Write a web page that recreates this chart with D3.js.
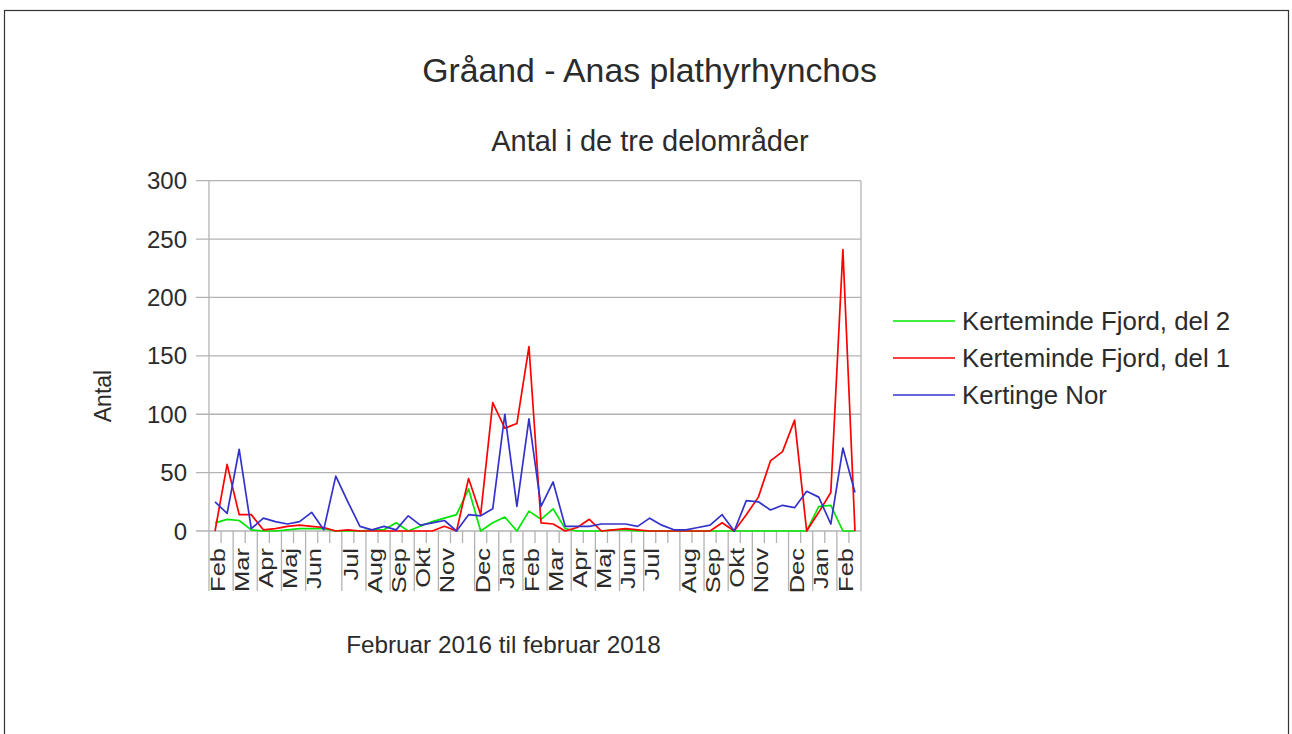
<!DOCTYPE html>
<html>

<head>
    <meta charset="utf-8">
    <title>Gråand</title>
    <script src="https://cdn.jsdelivr.net/npm/d3@7"></script>
    <style type="text/css">
    body {
        margin: 0;
        background: #fff;
    }

    text {
        font-family: "Liberation Sans", Arial, sans-serif;
        fill: #2b2b2b;
    }

    .grid line {
        stroke: #b3b3b3;
        stroke-width: 1.3px;
    }

    .series {
        fill: none;
        stroke-width: 1.7px;
        stroke-linejoin: round;
    }
    </style>
</head>

<body>
    <div id="chart"></div>
    <script>
    // one entry per count, month name at the first count of each month
    var categories = [
        "Feb", "", "Mar", "", "Apr", "", "Maj", "", "Jun", "", "", "Jul", "", "Aug", "", "Sep", "", "Okt",
        "", "Nov", "", "", "Dec", "", "Jan", "", "Feb", "", "Mar", "", "Apr", "", "Maj", "", "Jun", "",
        "Jul", "", "", "Aug", "", "Sep", "", "Okt", "", "Nov", "", "", "Dec", "", "Jan", "", "Feb", ""
    ];

    var del2 = [7, 10, 9, 1, 0, 0, 1, 2, 2, 2, 0, 0, 0, 1, 1, 7, 0, 4,
        8, 11, 14, 36, 0, 7, 12, 0, 17, 10, 19, 2, 0, 0, 0, 1, 1, 0,
        0, 0, 0, 0, 0, 0, 0, 0, 0, 0, 0, 0, 0, 0, 21, 22, 0, 0];

    var del1 = [0, 57, 14, 14, 1, 2, 4, 5, 4, 3, 0, 1, 0, 0, 0, 0, 0, 0,
        0, 4, 0, 45, 14, 110, 88, 92, 158, 7, 6, 0, 3, 10, 0, 1, 2, 1,
        0, 0, 0, 0, 0, 0, 7, 0, 14, 29, 60, 68, 95, 0, 16, 33, 241, 0];

    var kertinge = [25, 15, 70, 2, 11, 8, 6, 8, 16, 1, 47, 25, 4, 1, 4, 1, 13, 5,
        7, 9, 0, 14, 13, 19, 100, 21, 96, 21, 42, 4, 4, 4, 6, 6, 6, 4,
        11, 5, 1, 1, 3, 5, 14, 0, 26, 25, 18, 22, 20, 34, 29, 6, 71, 33];

    var seriesNames = ["Kerteminde Fjord, del 2", "Kerteminde Fjord, del 1", "Kertinge Nor"];
    var seriesColors = ["#00e600", "#ff0000", "#3333cc"];
    var yTicks = [0, 50, 100, 150, 200, 250, 300];

    var series = [del2, del1, kertinge];

    var W = 1292,
        H = 734,
        plot = { left: 209, right: 861, top: 180.7, bottom: 531 };

    var svg = d3.select('#chart').append('svg')
        .attr('width', W)
        .attr('height', H);

    // page frame
    svg.append('rect')
        .attr('x', 4.5).attr('y', 10.5)
        .attr('width', 1284).attr('height', 740)
        .attr('fill', 'none')
        .attr('stroke', '#333')
        .attr('stroke-width', 1.2);

    var xScale = d3.scaleBand()
        .domain(d3.range(categories.length))
        .range([plot.left, plot.right]);

    var yScale = d3.scaleLinear()
        .domain([0, 300])
        .range([plot.bottom, plot.top]);

    function cx(i) {
        return xScale(i) + xScale.bandwidth() / 2;
    }

    // horizontal grid + y labels
    var grid = svg.append('g').attr('class', 'grid');
    grid.selectAll('line')
        .data(yTicks)
        .enter()
        .append('line')
        .attr('x1', plot.left - 13)
        .attr('x2', plot.right)
        .attr('y1', function(d) { return yScale(d); })
        .attr('y2', function(d) { return yScale(d); });

    svg.selectAll('.ylab')
        .data(yTicks)
        .enter()
        .append('text')
        .attr('class', 'ylab')
        .attr('x', 187)
        .attr('y', function(d) { return yScale(d); })
        .attr('dy', '0.36em')
        .attr('text-anchor', 'end')
        .style('font-size', '24px')
        .text(function(d) { return d; });

    // axis lines
    grid.append('line')
        .attr('x1', plot.left).attr('x2', plot.left)
        .attr('y1', plot.top).attr('y2', plot.bottom);
    grid.append('line')
        .attr('x1', plot.right).attr('x2', plot.right)
        .attr('y1', plot.top).attr('y2', plot.bottom);

    // category ticks: short at every boundary, long before a labelled count
    var bounds = d3.range(categories.length + 1);
    grid.selectAll('.xtick')
        .data(bounds)
        .enter()
        .append('line')
        .attr('class', 'xtick')
        .attr('x1', function(k) { return plot.left + k * xScale.step(); })
        .attr('x2', function(k) { return plot.left + k * xScale.step(); })
        .attr('y1', plot.bottom)
        .attr('y2', function(k) {
            return (k < categories.length && categories[k] !== "") || k === categories.length ? 591 : 543;
        });

    svg.selectAll('.xlab')
        .data(categories.map(function(c, i) { return { c: c, i: i }; }).filter(function(d) { return d.c !== ""; }))
        .enter()
        .append('text')
        .attr('class', 'xlab')
        .attr('transform', function(d) {
            return 'translate(' + (cx(d.i) + 2.5) + ',548) rotate(-90) scale(1,0.8)';
        })
        .attr('dy', '0.35em')
        .attr('text-anchor', 'end')
        .style('font-size', '25.5px')
        .text(function(d) { return d.c; });

    // lines
    var line = d3.line()
        .x(function(d, i) { return cx(i); })
        .y(function(d) { return yScale(d); });

    svg.selectAll('.series')
        .data(series)
        .enter()
        .append('path')
        .attr('class', 'series')
        .attr('stroke', function(d, i) { return seriesColors[i]; })
        .attr('d', line);

    // titles
    svg.append('text')
        .attr('x', 649.5).attr('y', 82)
        .attr('text-anchor', 'middle')
        .style('font-size', '33.8px')
        .text('Gråand - Anas plathyrhynchos');

    svg.append('text')
        .attr('x', 650).attr('y', 151)
        .attr('text-anchor', 'middle')
        .style('font-size', '29px')
        .text('Antal i de tre delområder');

    svg.append('text')
        .attr('x', 503.5).attr('y', 653)
        .attr('text-anchor', 'middle')
        .style('font-size', '24.3px')
        .text('Februar 2016 til februar 2018');

    svg.append('text')
        .attr('transform', 'translate(111,396) rotate(-90)')
        .attr('text-anchor', 'middle')
        .style('font-size', '23px')
        .text('Antal');

    // legend
    var legend = svg.selectAll('.legend')
        .data(seriesNames)
        .enter()
        .append('g')
        .attr('class', 'legend')
        .attr('transform', function(d, i) { return 'translate(893,' + (321 + i * 37) + ')'; });

    legend.append('line')
        .attr('x1', 0).attr('x2', 62)
        .attr('stroke', function(d, i) { return seriesColors[i]; })
        .attr('stroke-width', 1.6);

    legend.append('text')
        .attr('x', 69)
        .attr('dy', '0.35em')
        .style('font-size', '25.8px')
        .text(function(d) { return d; });
    </script>
</body>

</html>
